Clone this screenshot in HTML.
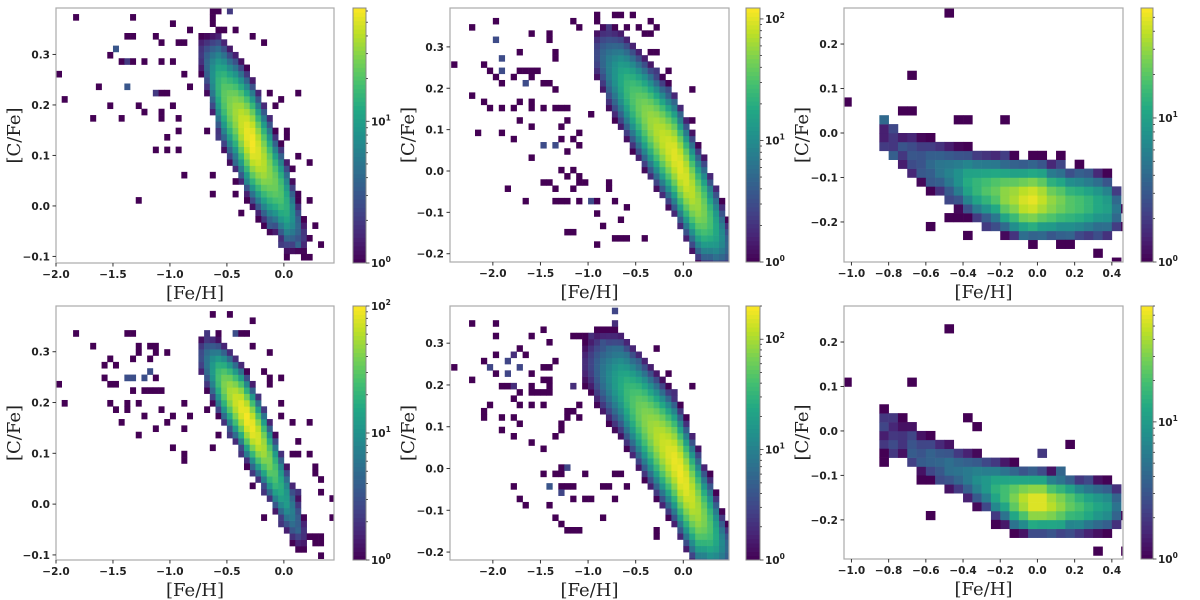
<!DOCTYPE html>
<html><head><meta charset="utf-8"><style>
html,body{margin:0;padding:0;background:#fff;}
svg{display:block;}
.tk{font-family:"DejaVu Sans","Liberation Sans",sans-serif;font-size:10.5px;font-weight:bold;fill:#222;}
.al{font-family:"DejaVu Serif","Liberation Serif",serif;font-size:18px;fill:#222;}
</style></head><body>
<svg id="fig" width="1200" height="600" viewBox="0 0 1200 600" xmlns="http://www.w3.org/2000/svg"></svg>
<script>
// ---------- data ----------
const p1ColX=[-0.725,-0.675,-0.625,-0.575,-0.525,-0.475,-0.425,-0.375,-0.325,-0.275,-0.225,-0.175,-0.125,-0.075,-0.025,0.025,0.075,0.125,0.175];
const p1ColC=[0.30,0.28,0.26,0.24,0.22,0.20,0.185,0.165,0.145,0.125,0.105,0.085,0.065,0.045,0.025,0.0,-0.02,-0.04,-0.06];
const p1ColS=[0.03,0.035,0.04,0.045,0.045,0.045,0.045,0.045,0.045,0.045,0.045,0.045,0.045,0.04,0.04,0.04,0.035,0.03,0.025];
const p1ColPeak=[2,4,8,15,22,28,35,45,55,60,50,40,30,25,20,14,8,4,2];
const p1Out=[[-1.83,0.376],[-1.34,0.376],[-1.36,0.33],[-1.33,0.33],[-1.49,0.307,3],[-1.54,0.295],[-1.45,0.28],[-1.4,0.28],[-1.35,0.28],[-1.3,0.28],[-1.25,0.28],[-1.98,0.255],[-1.6,0.235],[-1.4,0.235,3],[-1.94,0.206],[-1.70,0.176],[-1.53,0.2],[-1.45,0.176],[-1.29,0.2],[-1.24,0.186],[-1.15,0.117],[-1.01,0.117],[-0.91,0.117],[-1.01,0.14],[-0.91,0.15],[-0.85,0.065],[-0.65,0.065],[-1.29,0.016],[-1.05,0.176],[-1.06,0.19],[-1.12,0.22],[-1.07,0.23],[-1.02,0.23],[-1.15,0.23],[-0.99,0.2],[-0.93,0.176],[-1.12,0.34],[-0.98,0.36],[-1.05,0.32],[-0.95,0.32],[-0.9,0.32],[-0.84,0.35],[-1.06,0.29],[-0.98,0.28],[-0.9,0.26],[-0.82,0.24],[-0.64,0.37],[-0.64,0.385],[-0.55,0.38],[-0.5,0.38],[-0.46,0.39],[-0.6,0.36],[-0.51,0.35],[-0.42,0.35],[-0.28,0.33],[-0.18,0.32],[-0.15,0.23],[-0.03,0.21],[0.12,0.23],[-0.08,0.2],[0.02,0.15],[0.02,0.14],[0.15,0.1],[0.22,0.09],[0.09,0.07],[0.1,0.03],[0.2,0.01],[-0.22,-0.03],[-0.14,-0.04],[0.3,-0.04],[0.31,-0.07],[0.2,-0.06],[-0.05,-0.07],[0.1,-0.08],[0.14,-0.08],[0.04,-0.1],[0.18,-0.1],[0.22,-0.1],[-0.38,-0.01],[-0.34,0.01],[-0.42,0.02],[-0.6,0.02],[-0.45,0.05],[-0.34,0.05],[-0.45,0.09],[-0.55,0.13],[-0.67,0.15]];

const p2ColX=[-0.9,-0.8375,-0.775,-0.7125,-0.65,-0.5875,-0.525,-0.4625,-0.4,-0.3375,-0.275,-0.2125,-0.15,-0.0875,-0.025,0.0375,0.1,0.1625,0.225,0.2875,0.35,0.4125,0.475];
const p2ColC=[0.28,0.27,0.25,0.235,0.22,0.2,0.18,0.16,0.14,0.12,0.1,0.08,0.06,0.04,0.01,-0.02,-0.05,-0.08,-0.1,-0.12,-0.14,-0.16,-0.18];
const p2ColS=[0.04,0.045,0.05,0.05,0.05,0.05,0.05,0.05,0.05,0.05,0.05,0.05,0.05,0.05,0.05,0.05,0.05,0.05,0.05,0.045,0.045,0.04,0.035];
const p2ColPeak=[3,5,8,12,18,25,32,40,50,60,70,80,90,100,100,90,75,60,45,30,18,10,5];
const p2Out=[[-2.19,0.354],[-1.96,0.366],[-2.42,0.25],[-1.96,0.314,3],[-2.07,0.262],[-2.02,0.245],[-1.97,0.226],[-2.19,0.186],[-2.07,0.174],[-2.06,0.15],[-1.93,0.15],[-2.17,0.097],[-1.93,0.097],[-1.88,0.242,3],[-1.88,0.213],[-1.88,0.278,3],[-1.70,0.29],[-1.69,0.245],[-1.65,0.245],[-1.62,0.245],[-1.77,0.22],[-1.58,0.22],[-1.65,0.21,3],[-1.6,0.33],[-1.4,0.33],[-1.4,0.31],[-1.53,0.245],[-1.48,0.21],[-1.41,0.21],[-1.34,0.19],[-1.77,0.15],[-1.62,0.15],[-1.48,0.15],[-1.7,0.17],[-1.58,0.17],[-1.69,0.12],[-1.58,0.11],[-1.77,0.084],[-1.58,0.033],[-1.46,0.06,3],[-1.35,0.06,3],[-1.46,-0.027],[-1.65,-0.07],[-1.82,-0.045],[-1.39,-0.03],[-1.33,-0.05],[-1.37,-0.07],[-1.27,-0.08],[-1.25,-0.02],[-1.25,0.05],[-1.3,0.0],[-1.18,0.0],[-1.1,-0.02],[-1.14,-0.05],[-1.1,-0.07],[-1.23,-0.07],[-1.0,-0.07,3],[-1.27,0.1],[-1.16,0.08],[-1.27,0.07],[-1.2,0.126],[-1.33,0.27],[-1.33,0.15],[-1.26,0.15],[-1.2,0.15],[-1.18,0.366],[-1.37,0.28],[-1.2,-0.15],[-1.15,-0.15],[-0.9,-0.11],[-0.9,-0.07],[-0.84,-0.135],[-0.9,-0.185],[-0.78,-0.05],[-0.7,-0.07],[-0.65,-0.12],[-0.7,-0.16],[-0.64,-0.16],[-0.62,-0.17],[-0.6,-0.095],[-1.07,-0.03],[-1.02,-0.03],[-1.07,0.06],[-1.1,0.09],[-0.97,0.13],[-0.78,-0.03],[-0.38,-0.16],[-0.93,0.38],[-0.72,0.38],[-0.66,0.37],[-0.54,0.37],[-1.1,0.35],[-0.88,0.355],[-0.8,0.34],[-0.58,0.34],[-0.5,0.34],[-0.33,0.355],[-0.26,0.34],[-0.42,0.325],[-0.34,0.325],[-0.37,0.28],[-0.29,0.29],[-0.28,0.245],[-0.18,0.245],[-0.18,0.19],[-0.08,0.16],[-0.01,0.135],[0.1,0.2],[0.1,0.12],[-0.01,0.07],[0.2,-0.05],[0.28,-0.05]];

const p3ColX=[-0.825,-0.775,-0.725,-0.675,-0.625,-0.575,-0.525,-0.475,-0.425,-0.375,-0.325,-0.275,-0.225,-0.175,-0.125,-0.075,-0.025,0.025,0.075,0.125,0.175,0.225,0.275,0.325,0.375,0.425];
const p3ColC=[0.0,-0.02,-0.04,-0.05,-0.06,-0.07,-0.08,-0.09,-0.10,-0.11,-0.12,-0.125,-0.13,-0.14,-0.145,-0.15,-0.15,-0.15,-0.155,-0.155,-0.16,-0.16,-0.16,-0.16,-0.165,-0.17];
const p3ColS=[0.03,0.035,0.035,0.035,0.035,0.035,0.035,0.035,0.035,0.035,0.035,0.035,0.035,0.035,0.035,0.035,0.035,0.035,0.035,0.035,0.035,0.035,0.035,0.035,0.035,0.03];
const p3ColPeak=[1.5,2,2,3,3,4,5,6,8,12,15,18,22,30,35,45,50,40,30,25,20,18,15,12,10,5];
const p3Out=[[-0.47,0.27],[-0.675,0.138],[-1.03,0.079],[-0.73,0.059],[-0.675,0.059],[-0.82,0.04],[-0.82,0.03],[-0.43,0.04],[-0.37,0.02],[-0.18,0.02],[-0.78,-0.05],[-0.56,-0.21],[-0.37,-0.22],[-0.47,-0.19],[-0.42,-0.19],[0.34,-0.27],[0.43,-0.29],[-0.82,0.03],[-0.78,0.01],[-0.74,-0.02],[-0.82,-0.04],[-0.78,-0.06],[-0.62,-0.09],[-0.57,-0.1],[-0.47,-0.14],[-0.28,-0.13],[-0.18,-0.06],[0.0,-0.06],[0.04,-0.08],[0.14,-0.07],[0.14,-0.05],[0.24,-0.07],[0.24,-0.09],[0.27,-0.09],[-0.28,-0.21],[-0.23,-0.21],[-0.12,-0.21],[-0.05,-0.21],[-0.1,-0.23],[0.04,-0.24],[0.14,-0.23],[0.19,-0.23],[0.14,-0.25],[0.19,-0.25],[0.34,-0.22],[0.45,-0.2],[0.45,-0.16]];

const p4ColX=[-0.725,-0.675,-0.625,-0.575,-0.525,-0.475,-0.425,-0.375,-0.325,-0.275,-0.225,-0.175,-0.125,-0.075,-0.025,0.025,0.075,0.125,0.175];
const p4ColC=[0.29,0.28,0.265,0.25,0.235,0.22,0.205,0.19,0.17,0.15,0.13,0.11,0.085,0.06,0.035,0.01,-0.015,-0.035,-0.055];
const p4ColS=[0.025,0.03,0.03,0.03,0.03,0.03,0.03,0.03,0.03,0.03,0.03,0.03,0.03,0.03,0.03,0.03,0.03,0.03,0.025];
const p4ColPeak=[3,6,12,25,40,55,70,85,95,90,75,55,40,28,18,12,7,4,2];
const p4Out=[[-1.84,0.34],[-1.98,0.235],[-1.94,0.205],[-1.68,0.31],[-1.35,0.33],[-1.32,0.33],[-1.53,0.29],[-1.48,0.275],[-1.55,0.27],[-1.58,0.25],[-1.53,0.235],[-1.5,0.235],[-1.53,0.2],[-1.48,0.185],[-1.44,0.155],[-1.4,0.2],[-1.4,0.185],[-1.29,0.31],[-1.32,0.29],[-1.26,0.3],[-1.35,0.25,3],[-1.3,0.25,3],[-1.25,0.25,3],[-1.2,0.255,3],[-1.15,0.25],[-1.3,0.22],[-1.25,0.22],[-1.2,0.22],[-1.1,0.22],[-1.05,0.22],[-1.29,0.2],[-1.25,0.175],[-1.29,0.135],[-1.15,0.145],[-1.2,0.31],[-1.1,0.31],[-1.15,0.3],[-1.03,0.3],[-1.2,0.285],[-1.05,0.185],[-0.99,0.175],[-1.04,0.165],[-0.99,0.115],[-0.9,0.105],[-0.85,0.085],[-0.9,0.195],[-0.9,0.145],[-0.8,0.17],[-0.68,0.185],[-0.62,0.115],[-0.7,0.34],[-0.61,0.37],[-0.46,0.37],[-0.3,0.36],[-0.55,0.33],[-0.45,0.33,3],[-0.4,0.33],[-0.3,0.31],[-0.1,0.3],[-0.32,0.34],[-0.12,0.25],[-0.05,0.25],[-0.2,0.26],[-0.15,0.235],[-0.03,0.2],[-0.03,0.17],[0.06,0.155],[0.2,0.155],[0.12,0.12],[0.12,0.105],[0.09,0.1],[0.2,0.095],[0.26,0.075],[0.3,0.065],[0.34,0.045],[0.34,0.025],[0.44,0.005],[0.44,-0.025],[0.25,-0.08],[0.34,-0.08],[0.34,-0.1],[0.28,-0.06],[0.31,-0.06],[0.2,-0.06],[0.12,-0.05],[-0.4,0.1],[-0.34,0.1],[-0.34,0.075],[-0.28,0.075],[-0.28,0.06],[-0.28,0.04],[-0.18,0.02],[-0.16,-0.02],[-0.05,-0.04],[-0.46,0.135],[-0.55,0.14],[0.05,0.0],[0.1,0.02],[0.15,0.03]];

const p5ColX=[-1.025,-0.9625,-0.9,-0.8375,-0.775,-0.7125,-0.65,-0.5875,-0.525,-0.4625,-0.4,-0.3375,-0.275,-0.2125,-0.15,-0.0875,-0.025,0.0375,0.1,0.1625,0.225,0.2875,0.35,0.4125,0.475];
const p5ColC=[0.25,0.25,0.24,0.23,0.22,0.21,0.2,0.18,0.16,0.14,0.12,0.1,0.08,0.06,0.04,0.02,-0.01,-0.04,-0.07,-0.1,-0.12,-0.14,-0.16,-0.18,-0.19];
const p5ColS=[0.04,0.045,0.05,0.05,0.05,0.05,0.05,0.05,0.05,0.05,0.05,0.05,0.05,0.05,0.05,0.05,0.05,0.05,0.05,0.05,0.045,0.045,0.04,0.035,0.03];
const p5ColPeak=[2,3,5,8,12,18,25,35,45,60,75,90,110,130,150,170,180,160,130,100,70,45,25,12,6];
const p5Out=[[-2.19,0.347],[-1.96,0.347],[-1.96,0.32],[-2.42,0.24],[-2.19,0.207],[-2.08,0.255],[-2.03,0.24,3],[-1.96,0.22],[-1.86,0.22,3],[-1.9,0.195],[-1.85,0.195],[-1.8,0.195],[-1.86,0.255,3],[-1.96,0.27],[-1.8,0.27],[-1.76,0.27],[-1.7,0.28],[-1.63,0.27],[-1.7,0.24,3],[-1.6,0.22],[-1.77,0.2],[-1.7,0.175],[-1.7,0.148],[-1.77,0.163],[-2.03,0.15],[-2.08,0.135],[-2.08,0.12],[-1.9,0.12],[-1.9,0.09],[-1.77,0.12],[-1.7,0.1],[-1.77,0.07],[-1.6,0.2],[-1.6,0.175],[-1.6,0.15],[-1.5,0.185],[-1.43,0.2],[-1.38,0.175],[-1.43,0.21],[-1.5,0.21],[-1.55,0.18],[-1.48,0.155],[-1.6,0.32],[-1.5,0.33],[-1.43,0.3],[-1.5,0.24],[-1.4,0.24],[-1.33,0.255],[-1.6,0.055],[-1.5,0.04],[-1.37,0.07],[-1.5,-0.01],[-1.33,-0.01],[-1.26,-0.02],[-1.27,0.005],[-1.21,0.005,3],[-1.8,-0.04],[-1.7,-0.07],[-1.63,-0.09],[-1.43,-0.04],[-1.38,-0.04,3],[-1.38,-0.09],[-1.27,-0.04],[-1.2,-0.05],[-1.27,-0.065,3],[-1.16,-0.04],[-1.05,-0.015],[-1.16,-0.075],[-1.05,-0.08],[-1.0,-0.08],[-1.33,-0.12],[-1.26,-0.13],[-1.21,-0.145],[-1.15,-0.145],[-1.1,-0.145],[-0.85,-0.12],[-0.85,-0.045],[-0.78,-0.045],[-0.7,-0.07],[-0.74,-0.02],[-0.66,-0.01],[-0.62,-0.05],[-1.3,0.11],[-1.25,0.12],[-1.25,0.14],[-1.18,0.13],[-1.28,0.09],[-1.07,0.12],[-1.1,0.15],[-1.13,0.2],[-1.18,0.2],[-1.16,0.32],[-1.1,0.31],[-1.05,0.315],[-1.0,0.32],[-0.85,0.3],[-0.78,0.29],[-0.74,0.35],[-0.7,0.35],[-0.74,0.37,3],[-0.74,0.29],[-0.64,0.28],[-0.57,0.27],[-0.5,0.25],[-0.29,0.28],[-0.17,0.22],[-0.08,0.18],[0.1,0.19],[-0.2,0.12],[-0.17,0.11],[-0.11,0.09],[-0.01,0.08],[0.1,0.01],[0.17,-0.02],[0.17,-0.04],[-0.29,-0.15],[-0.29,-0.16],[0.11,-0.2],[0.34,-0.2]];

const p6ColX=[-0.825,-0.775,-0.725,-0.675,-0.625,-0.575,-0.525,-0.475,-0.425,-0.375,-0.325,-0.275,-0.225,-0.175,-0.125,-0.075,-0.025,0.025,0.075,0.125,0.175,0.225,0.275,0.325,0.375,0.425];
const p6ColC=[0.0,-0.01,-0.02,-0.03,-0.05,-0.06,-0.07,-0.08,-0.09,-0.10,-0.11,-0.12,-0.13,-0.14,-0.15,-0.155,-0.16,-0.16,-0.165,-0.165,-0.165,-0.17,-0.17,-0.17,-0.17,-0.17];
const p6ColS=[0.03,0.03,0.03,0.03,0.03,0.03,0.03,0.03,0.03,0.03,0.03,0.03,0.03,0.03,0.03,0.028,0.028,0.028,0.028,0.028,0.028,0.028,0.028,0.028,0.028,0.028];
const p6ColPeak=[1.5,2,2,3,3,4,4,5,5,6,8,10,15,20,30,45,60,60,45,35,25,20,15,12,10,5];
const p6Out=[[-0.47,0.231],[-1.03,0.111],[-0.675,0.111],[-0.82,0.058],[-0.37,0.04],[-0.32,0.005],[0.19,-0.03],[-0.62,-0.1],[-0.52,-0.1],[-0.57,-0.19],[-0.21,-0.17],[-0.21,-0.21],[-0.11,-0.21],[-0.07,-0.21],[-0.05,-0.2],[0.14,-0.2],[0.14,-0.21],[0.19,-0.23],[0.29,-0.19],[0.45,-0.19],[0.34,-0.26],[0.45,-0.26],[0.14,-0.09,3],[0.29,-0.1],[0.0,-0.06],[0.04,-0.06],[-0.05,-0.08],[-0.82,0.04],[-0.78,0.04],[-0.72,0.04],[-0.82,0.0],[-0.82,-0.02],[-0.82,-0.05],[-0.82,-0.07],[-0.78,-0.04],[-0.78,-0.06],[-0.67,-0.06],[-0.62,-0.07],[-0.67,-0.07]];

const panels=[
 {id:'p1',L:56,R:334,T:8,B:263,xlim:[-2.0,0.44],ylim:[-0.113,0.392],x0:-2.0,dx:0.05,y0:-0.12,dy:0.0125,vmax:63,cbx:353,cbw:13,
  xt:[-2,-1.5,-1,-0.5,0],yt:[-0.1,0,0.1,0.2,0.3],cx:p1ColX,cc:p1ColC,cs:p1ColS,cp:p1ColPeak,out:p1Out},
 {id:'p2',L:450,R:729,T:8,B:262,xlim:[-2.45,0.48],ylim:[-0.22,0.394],x0:-2.5,dx:0.0625,y0:-0.23,dy:0.015,vmax:123,cbx:746,cbw:14,
  xt:[-2,-1.5,-1,-0.5,0],yt:[-0.2,-0.1,0,0.1,0.2,0.3],cx:p2ColX,cc:p2ColC,cs:p2ColS,cp:p2ColPeak,out:p2Out},
 {id:'p3',L:844,R:1123,T:8,B:262,xlim:[-1.04,0.46],ylim:[-0.29,0.281],x0:-1.05,dx:0.05,y0:-0.3,dy:0.02,vmax:58,cbx:1141,cbw:12,
  xt:[-1,-0.8,-0.6,-0.4,-0.2,0,0.2,0.4],yt:[-0.2,-0.1,0,0.1,0.2],cx:p3ColX,cc:p3ColC,cs:p3ColS,cp:p3ColPeak,out:p3Out},
 {id:'p4',L:56,R:334,T:306,B:560,xlim:[-2.0,0.44],ylim:[-0.11,0.39],x0:-2.0,dx:0.05,y0:-0.12,dy:0.0125,vmax:100,cbx:353,cbw:13,
  xt:[-2,-1.5,-1,-0.5,0],yt:[-0.1,0,0.1,0.2,0.3],cx:p4ColX,cc:p4ColC,cs:p4ColS,cp:p4ColPeak,out:p4Out},
 {id:'p5',L:450,R:729,T:306,B:560,xlim:[-2.45,0.48],ylim:[-0.219,0.389],x0:-2.5,dx:0.0625,y0:-0.23,dy:0.015,vmax:200,cbx:746,cbw:14,
  xt:[-2,-1.5,-1,-0.5,0],yt:[-0.2,-0.1,0,0.1,0.2,0.3],cx:p5ColX,cc:p5ColC,cs:p5ColS,cp:p5ColPeak,out:p5Out},
 {id:'p6',L:844,R:1123,T:306,B:559,xlim:[-1.04,0.46],ylim:[-0.288,0.281],x0:-1.05,dx:0.05,y0:-0.3,dy:0.02,vmax:70,cbx:1141,cbw:12,
  xt:[-1,-0.8,-0.6,-0.4,-0.2,0,0.2,0.4],yt:[-0.2,-0.1,0,0.1,0.2],cx:p6ColX,cc:p6ColC,cs:p6ColS,cp:p6ColPeak,out:p6Out}
];

// ---------- rendering ----------
const NS='http://www.w3.org/2000/svg';
const svg=document.getElementById('fig');
const VIR=['#440154','#482475','#414487','#355f8d','#2a788e','#21918c','#22a884','#44bf70','#7ad151','#bddf26','#fde725'];
function hex(h){return [parseInt(h.slice(1,3),16),parseInt(h.slice(3,5),16),parseInt(h.slice(5,7),16)];}
function viridis(t){t=Math.max(0,Math.min(1,t));const f=t*10,i=Math.min(9,Math.floor(f)),u=f-i;const a=hex(VIR[i]),b=hex(VIR[i+1]);
 return 'rgb('+a.map((v,k)=>Math.round(v+(b[k]-v)*u)).join(',')+')';}
function el(tag,attrs,parent){const e=document.createElementNS(NS,tag);for(const k in attrs)e.setAttribute(k,attrs[k]);(parent||svg).appendChild(e);return e;}
function fmt(v,d){const s=Math.abs(v).toFixed(d);return (v<-1e-9?'\u2212':'')+s;}

panels.forEach(p=>{
 const g=el('g',{});
 
 
 const X=v=>p.L+(v-p.xlim[0])/(p.xlim[1]-p.xlim[0])*(p.R-p.L);
 const Y=v=>p.B-(v-p.ylim[0])/(p.ylim[1]-p.ylim[0])*(p.B-p.T);
 const clip=el('clipPath',{id:'clip-'+p.id},g);
 el('rect',{x:p.L,y:p.T,width:p.R-p.L,height:p.B-p.T},clip);
 // histogram bins
 const grid={};
 const add=(ix,iy,v)=>{const k=ix+','+iy;grid[k]=(grid[k]||0)+v;};
 p.cx.forEach((x,i)=>{
  const ix=Math.floor((x-p.x0)/p.dx+1e-6);
  const n=Math.ceil((p.ylim[1]-p.y0)/p.dy)+1;
  for(let iy=0;iy<n;iy++){
   const yc=p.y0+(iy+0.5)*p.dy;
   const v=p.cp[i]*Math.exp(-0.5*Math.pow((yc-p.cc[i])/p.cs[i],2));
   if(v>=0.8) add(ix,iy,Math.max(1,v));
  }
 });
 p.out.forEach(o=>{add(Math.floor((o[0]-p.x0)/p.dx),Math.floor((o[1]-p.y0)/p.dy),o[2]||1);});
 const cg=el('g',{'clip-path':'url(#clip-'+p.id+')'},g);
 
 
 const lmax=Math.log10(p.vmax);
 Object.keys(grid).forEach(k=>{
  const [ix,iy]=k.split(',').map(Number);
  const xa=X(p.x0+ix*p.dx),xb=X(p.x0+(ix+1)*p.dx);
  const ya=Y(p.y0+(iy+1)*p.dy),yb=Y(p.y0+iy*p.dy);
  const c=viridis(Math.log10(grid[k])/lmax);
  const r=el('rect',{x:xa.toFixed(2),y:ya.toFixed(2),width:(xb-xa+0.3).toFixed(2),height:(yb-ya+0.3).toFixed(2),fill:c},cg);
  
  
 });
 // frame
 const fr=el('rect',{x:p.L,y:p.T,width:p.R-p.L,height:p.B-p.T,fill:'none',stroke:'#aaa','stroke-width':1.2},g);
 
 
 const dec=(p.xt[1]-p.xt[0])<0.3?1:1;
 p.xt.forEach(v=>{const x=X(v);
  el('line',{x1:x,x2:x,y1:p.B,y2:p.B+3.5,stroke:'#333','stroke-width':1},g);
  const t=el('text',{x:x,y:p.B+15,'text-anchor':'middle',class:'tk'},g);t.textContent=fmt(v,1);
  
  
 });
 p.yt.forEach(v=>{const y=Y(v);
  el('line',{x1:p.L-3.5,x2:p.L,y1:y,y2:y,stroke:'#333','stroke-width':1},g);
  const t=el('text',{x:p.L-6,y:y+4,'text-anchor':'end',class:'tk'},g);t.textContent=fmt(v,1);
  
  
 });
 const xl=el('text',{x:(p.L+p.R)/2,y:p.B+36,'text-anchor':'middle',class:'al'},g);xl.textContent='[Fe/H]';
 
 
 const yx=p.L-36,yy=(p.T+p.B)/2;
 const yl=el('text',{x:yx,y:yy,'text-anchor':'middle',class:'al',transform:'rotate(-90 '+yx+' '+yy+')'},g);yl.textContent='[C/Fe]';
 
 
 // colorbar
 const cb=el('g',{},g);
 
 
 const N=60,h=(p.B-p.T)/N;
 for(let i=0;i<N;i++){el('rect',{x:p.cbx,y:(p.B-(i+1)*h).toFixed(2),width:p.cbw,height:(h+0.4).toFixed(2),fill:viridis((i+0.5)/N)},cb);}
 el('rect',{x:p.cbx,y:p.T,width:p.cbw,height:p.B-p.T,fill:'none',stroke:'#888','stroke-width':1},cb);
 const CY=v=>p.B-Math.log10(v)/lmax*(p.B-p.T);
 for(let d=0;d<=3;d++){for(let m=1;m<10;m++){const v=m*Math.pow(10,d);if(v>p.vmax*1.001)continue;const y=CY(v);
  el('line',{x1:p.cbx+p.cbw,x2:p.cbx+p.cbw+(m===1?3.5:2),y1:y,y2:y,stroke:'#333','stroke-width':0.8},cb);
  if(m===1){const t=el('text',{x:p.cbx+p.cbw+5,y:y+4,class:'tk'},cb);t.textContent='10';
   const s=el('tspan',{dy:-5,'font-size':'7.5px'},t);s.textContent=String(d);
   
   }
 }}
});
</script>
</body></html>
